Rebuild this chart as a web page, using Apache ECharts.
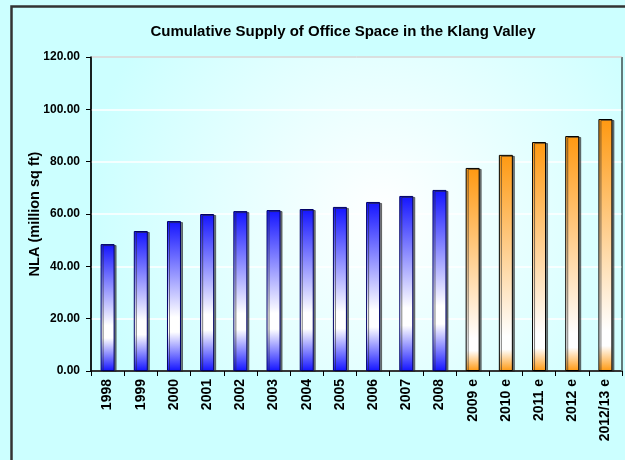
<!DOCTYPE html>
<html>
<head>
<meta charset="utf-8">
<script src="https://cdn.jsdelivr.net/npm/echarts@6/dist/echarts.min.js"></script>
<style>
  html, body { margin: 0; padding: 0; background: #ffffff; }
  #chart { width: 625px; height: 460px; }
</style>
</head>
<body>
<div id="chart"></div>
<script>
// categories along the x axis
const years = ['1998', '1999', '2000', '2001', '2002', '2003', '2004', '2005',
  '2006', '2007', '2008', '2009 e', '2010 e', '2011 e', '2012 e', '2012/13 e'];
// cumulative NLA, million sq ft
const nla = [48.5, 53.5, 57.3, 60.0, 61.1, 61.5, 61.9, 62.7,
  64.6, 66.9, 69.2, 77.6, 82.6, 87.5, 89.8, 96.3];
// how many of the years are actual figures (rest are estimates)
const actualCount = 11;
const yTicks = [0, 20, 40, 60, 80, 100, 120];

const font = 'Liberation Sans, Arial, sans-serif';

function barFill(edge, a, b) {
  return {
    type: 'linear', x: 0, y: 0, x2: 0, y2: 1,
    colorStops: [
      { offset: 0, color: edge },
      { offset: a, color: '#ffffff' },
      { offset: b, color: '#ffffff' },
      { offset: 1, color: edge }
    ]
  };
}

const blueStyle = {
  color: barFill('#1414ff', 0.64, 0.74),
  borderColor: '#000066',
  borderWidth: 1,
  shadowColor: 'rgba(40,40,40,0.6)',
  shadowOffsetX: 2,
  shadowOffsetY: 1
};
const orangeStyle = {
  color: barFill('#ff9911', 0.84, 0.9),
  borderColor: '#000000',
  borderWidth: 1,
  shadowColor: 'rgba(40,40,40,0.6)',
  shadowOffsetX: 2,
  shadowOffsetY: 1
};

const barData = nla.map(function (v, i) {
  return { value: v, itemStyle: i < actualCount ? blueStyle : orangeStyle };
});

const chart = echarts.init(document.getElementById('chart'));
chart.setOption({
  animation: false,
  backgroundColor: '#ccffff',
  textStyle: { fontFamily: font },
  title: {
    text: 'Cumulative Supply of Office Space in the Klang Valley',
    left: 338, top: 19, textAlign: 'center',
    textStyle: { fontFamily: font, fontSize: 15, fontWeight: 'bold', color: '#000' }
  },
  graphic: [{
    type: 'rect', left: 9, top: 4,
    shape: { width: 660, height: 500 },
    style: { fill: null, stroke: '#333333', lineWidth: 2.5 },
    silent: true, z: 100
  }, {
    type: 'line', silent: true, z: 100,
    shape: { x1: 622, y1: 57, x2: 622, y2: 371 },
    style: { stroke: '#607878', lineWidth: 1.5 }
  }],
  grid: {
    left: 91, top: 57, right: 3, bottom: 89,
    show: true,
    borderColor: '#000000', borderWidth: 1,
    backgroundColor: {
      type: 'radial', x: 0.55, y: 0.5, r: 0.95,
      colorStops: [
        { offset: 0, color: '#ffffff' },
        { offset: 1, color: '#ccffff' }
      ]
    }
  },
  xAxis: {
    type: 'category',
    data: years,
    axisLine: { lineStyle: { color: '#000', width: 1.5 } },
    axisTick: { show: true, length: 5, lineStyle: { color: '#000' } },
    axisLabel: {
      rotate: 90, margin: 8, color: '#000',
      fontFamily: font, fontSize: 14, fontWeight: 'bold'
    }
  },
  yAxis: {
    type: 'value',
    min: yTicks[0], max: yTicks[yTicks.length - 1], interval: 20,
    name: 'NLA (million sq ft)',
    nameLocation: 'middle', nameGap: 49,
    nameMoveOverlap: false,
    nameTextStyle: { fontFamily: font, fontSize: 14.5, fontWeight: 'bold', color: '#000' },
    axisLine: { show: true, lineStyle: { color: '#000', width: 1.5 } },
    axisTick: { show: true, length: 5, lineStyle: { color: '#000' } },
    splitLine: { lineStyle: { color: '#ffffff', width: 1.5 } },
    axisLabel: {
      margin: 11, color: '#000',
      fontFamily: font, fontSize: 12, fontWeight: 'bold',
      formatter: function (v) { return v.toFixed(2); }
    }
  },
  series: [{
    type: 'bar',
    data: barData,
    barWidth: 14
  }]
});
</script>
</body>
</html>
